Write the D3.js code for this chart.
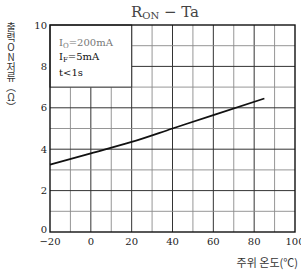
<!DOCTYPE html>
<html>
<head>
<meta charset="utf-8">
<script src="https://cdn.jsdelivr.net/npm/d3@7"></script>
<style>
  body { margin: 0; background: #fff; }
  svg { display: block; }
  .serif { font-family: "DejaVu Serif", "Liberation Serif", serif; }
</style>
</head>
<body>
<div class="chart"></div>
<script>
// values
const tempC = [-20, 0, 20, 40, 60, 85];
const ron = [3.25, 3.8, 4.35, 5.0, 5.65, 6.45];
const xTicks = [-20, 0, 20, 40, 60, 80, 100];
const yTicks = [0, 2, 4, 6, 8, 10];
const yTitleText = "출력ON저류︵Ω︶";

const w = 301, h = 273;
const padL = 50, padR = 295, padT = 25, padB = 232;

const xScale = d3.scaleLinear().domain([-20, 100]).range([padL, padR]);
const yScale = d3.scaleLinear().domain([0, 10]).range([padB, padT]);

const svg = d3.select(".chart").append("svg")
  .attr("width", w).attr("height", h);

// grid
const vLines = d3.range(-10, 100, 10);
const hLines = d3.range(1, 10, 1);
svg.selectAll(".vgrid").data(vLines).enter().append("line")
  .attr("x1", d => xScale(d)).attr("x2", d => xScale(d))
  .attr("y1", padT).attr("y2", padB)
  .attr("stroke", d => d % 20 === 0 ? "#333" : "#8a8a8a")
  .attr("stroke-width", d => d % 20 === 0 ? 1 : 0.9);
svg.selectAll(".hgrid").data(hLines).enter().append("line")
  .attr("x1", padL).attr("x2", padR)
  .attr("y1", d => yScale(d)).attr("y2", d => yScale(d))
  .attr("stroke", d => d % 2 === 0 ? "#333" : "#8a8a8a")
  .attr("stroke-width", d => d % 2 === 0 ? 1 : 0.9);

// legend box
svg.append("rect")
  .attr("x", xScale(-20)).attr("y", yScale(10))
  .attr("width", xScale(20) - xScale(-20))
  .attr("height", yScale(7) - yScale(10))
  .attr("fill", "#fff").attr("stroke", "#333").attr("stroke-width", 1);

// frame
svg.append("rect")
  .attr("x", padL).attr("y", padT)
  .attr("width", padR - padL).attr("height", padB - padT)
  .attr("fill", "none").attr("stroke", "#111").attr("stroke-width", 1.4);

// curve
const line = d3.line().x((d, i) => xScale(tempC[i])).y(d => yScale(d)).curve(d3.curveMonotoneX);
svg.append("path").datum(ron)
  .attr("d", line)
  .attr("fill", "none").attr("stroke", "#111").attr("stroke-width", 1.8);

// tick labels
svg.selectAll(".ylab").data(yTicks).enter().append("text")
  .attr("class", "serif")
  .attr("x", padL - 3).attr("y", d => yScale(d) + (d === 0 ? 0.5 : 3.5))
  .attr("text-anchor", "end").attr("font-size", 10).attr("fill", "#222")
  .text(d => d);
svg.selectAll(".xlab").data(xTicks).enter().append("text")
  .attr("class", "serif")
  .attr("x", d => xScale(d)).attr("y", padB + 12.5)
  .attr("text-anchor", "middle").attr("font-size", 10).attr("fill", "#222")
  .text(d => d < 0 ? "\u2212" + Math.abs(d) : d);

// title
const title = svg.append("text").attr("class", "serif")
  .attr("x", 165).attr("y", 17).attr("text-anchor", "middle")
  .attr("font-size", 15).attr("fill", "#444");
title.append("tspan").text("R");
title.append("tspan").attr("font-size", 10).attr("dy", 2).text("ON");
title.append("tspan").attr("dy", -2).text(" \u2212 Ta");

// legend texts
const lg1 = svg.append("text").attr("class", "serif")
  .attr("x", 59).attr("y", 46).attr("font-size", 10).attr("fill", "#777");
lg1.append("tspan").text("I");
lg1.append("tspan").attr("font-size", 7).attr("dy", 1.5).text("O");
lg1.append("tspan").attr("dy", -1.5).text("=200mA");
const lg2 = svg.append("text").attr("class", "serif")
  .attr("x", 59).attr("y", 60).attr("font-size", 10).attr("fill", "#111");
lg2.append("tspan").text("I");
lg2.append("tspan").attr("font-size", 7).attr("dy", 1.5).text("F");
lg2.append("tspan").attr("dy", -1.5).text("=5mA");
svg.append("text").attr("class", "serif")
  .attr("x", 59).attr("y", 76).attr("font-size", 10).attr("fill", "#111")
  .text("t<1s");

// y axis title (vertical writing)
svg.append("text")
  .attr("x", 11).attr("y", 22)
  .attr("font-family", "'Noto Sans CJK KR', 'Noto Sans', sans-serif")
  .attr("font-size", 10).attr("fill", "#333")
  .style("writing-mode", "vertical-rl")
  .style("text-orientation", "upright")
  .text(yTitleText);

// x axis title
svg.append("text")
  .attr("x", 298).attr("y", 267).attr("text-anchor", "end")
  .attr("font-family", "'Noto Sans CJK KR', 'Noto Sans', sans-serif")
  .attr("font-size", 11).attr("fill", "#333")
  .text("주위 온도(℃)");
</script>
</body>
</html>
